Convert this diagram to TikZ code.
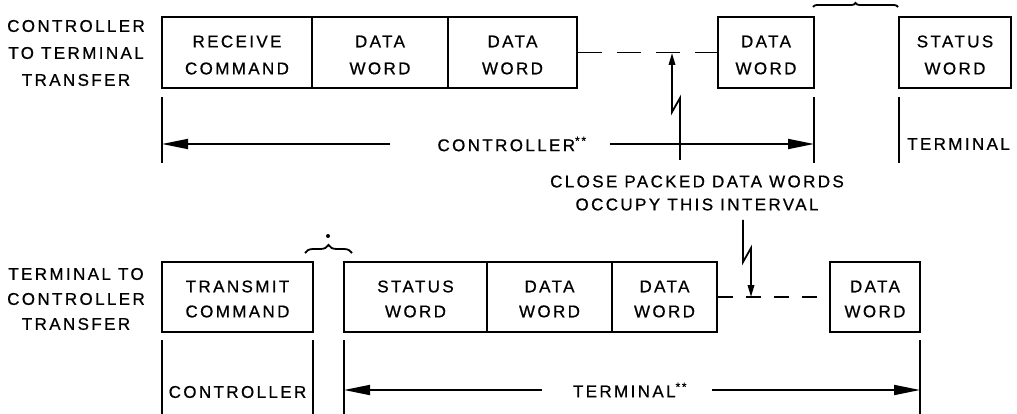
\documentclass[tikz,border=0pt]{standalone}
\usepackage{fontspec}
\setmainfont{Liberation Sans}[LetterSpace=14,FakeBold=0.7]
\usetikzlibrary{arrows.meta,decorations.pathreplacing}
\begin{document}
\begin{tikzpicture}[x=1pt,y=-1pt,
  box/.style={draw, line width=1.8pt, inner sep=0pt, minimum height=71pt},
  lbl/.style={align=center, inner sep=0pt, font=\fontsize{17}{27}\selectfont},
  ln/.style={line width=1.8pt},
  arr/.style={line width=1.8pt, -{Triangle[length=26pt,width=10pt]}},
  sarr/.style={line width=1.8pt, -{Triangle[length=12pt,width=6.5pt]}},
  brc/.style={line width=1.8pt, decorate, decoration={brace, amplitude=#1}}
]
\useasboundingbox (0,0) rectangle (1017,414);

% ---------------- top row ----------------
\node[lbl] (tl) at (76,53) {CONTROLLER\\TO TERMINAL\\TRANSFER};

\node[box, minimum width=150pt] (b1) at (237,52.5) {};
\node[box, minimum width=136pt] (b2) at (380,52.5) {};
\node[box, minimum width=129pt] (b3) at (512.5,52.5) {};
\node[box, minimum width=96pt]  (b4) at (766,52.5) {};
\node[box, minimum width=112pt] (b5) at (955,52.5) {};

\node[lbl] (t1) at (237,55) {RECEIVE\\COMMAND};
\node[lbl] (t2) at (380,55) {DATA\\WORD};
\node[lbl] (t3) at (512.5,55) {DATA\\WORD};
\node[lbl] (t4) at (766,55) {DATA\\WORD};
\node[lbl] (t5) at (955,55) {STATUS\\WORD};

\draw[ln, dash pattern=on 24pt off 15pt] (b3.east) -- (b4.west);

\coordinate (v1a) at (162,97);  \coordinate (v1b) at (162,163);
\coordinate (v2a) at (814,97);  \coordinate (v2b) at (814,163);
\coordinate (v3a) at (899,97);  \coordinate (v3b) at (899,163);
\draw[ln] (v1a) -- (v1b);
\draw[ln] (v2a) -- (v2b);
\draw[ln] (v3a) -- (v3b);

\node[lbl] (ctl) at (512,144) {CONTROLLER\textsuperscript{**}};
\coordinate (ca) at (390,144); \coordinate (ce) at (162,144);
\coordinate (cb) at (610,144); \coordinate (cf) at (814,144);
\draw[arr] (ca) -- (ce);
\draw[arr] (cb) -- (cf);
\node[lbl, anchor=west] (term) at (907,144) {TERMINAL};

\coordinate (z1) at (680,160);
\coordinate (z2) at (680,98);
\coordinate (z3) at (672,112);
\coordinate (z4) at (672,53);
\draw[sarr] (z1) -- (z2) -- (z3) -- (z4);

\draw[brc=4pt] (813,7) -- (898,7);

% ---------------- middle text ----------------
\node[lbl, font=\fontsize{17}{23}\selectfont] (note) at (697,193) {CLOSE PACKED DATA WORDS\\OCCUPY THIS INTERVAL};

% ---------------- bottom row ----------------
\node[lbl, font=\fontsize{17}{25}\selectfont] (bl) at (76,299) {TERMINAL TO\\CONTROLLER\\TRANSFER};

\node[box, minimum width=151pt, minimum height=70pt] (c1) at (237.5,297) {};
\node[box, minimum width=143pt, minimum height=70pt] (c2) at (415.5,297) {};
\node[box, minimum width=125pt, minimum height=70pt] (c3) at (549.5,297) {};
\node[box, minimum width=105pt, minimum height=70pt] (c4) at (664.5,297) {};
\node[box, minimum width=90pt,  minimum height=70pt] (c5) at (875,297) {};

\node[lbl, font=\fontsize{17}{25}\selectfont] (s1) at (237.5,299) {TRANSMIT\\COMMAND};
\node[lbl, font=\fontsize{17}{25}\selectfont] (s2) at (415.5,299) {STATUS\\WORD};
\node[lbl, font=\fontsize{17}{25}\selectfont] (s3) at (549.5,299) {DATA\\WORD};
\node[lbl, font=\fontsize{17}{25}\selectfont] (s4) at (664.5,299) {DATA\\WORD};
\node[lbl, font=\fontsize{17}{25}\selectfont] (s5) at (875,299) {DATA\\WORD};

\draw[ln, dash pattern=on 15pt off 13pt] (c4.east) -- (c5.west);

\coordinate (w1a) at (162,340); \coordinate (w1b) at (162,414);
\coordinate (w2a) at (313,340); \coordinate (w2b) at (313,414);
\coordinate (w3a) at (344,340); \coordinate (w3b) at (344,414);
\coordinate (w4a) at (920,340); \coordinate (w4b) at (920,414);
\draw[ln] (w1a) -- (w1b);
\draw[ln] (w2a) -- (w2b);
\draw[ln] (w3a) -- (w3b);
\draw[ln] (w4a) -- (w4b);

\node[lbl] (bctl) at (237.5,392) {CONTROLLER};
\node[lbl] (bterm) at (630,390) {TERMINAL\textsuperscript{**}};
\coordinate (da) at (542,390); \coordinate (de) at (344,390);
\coordinate (db) at (712,390); \coordinate (df) at (920,390);
\draw[arr] (da) -- (de);
\draw[arr] (db) -- (df);

\coordinate (y1) at (743,220);
\coordinate (y2) at (743,262);
\coordinate (y3) at (751,248);
\coordinate (y4) at (751,297);
\draw[sarr] (y1) -- (y2) -- (y3) -- (y4);

\draw[brc=8pt] (305,253) -- (352,253);
\fill (328,236) circle (2pt);
\end{tikzpicture}
\end{document}
